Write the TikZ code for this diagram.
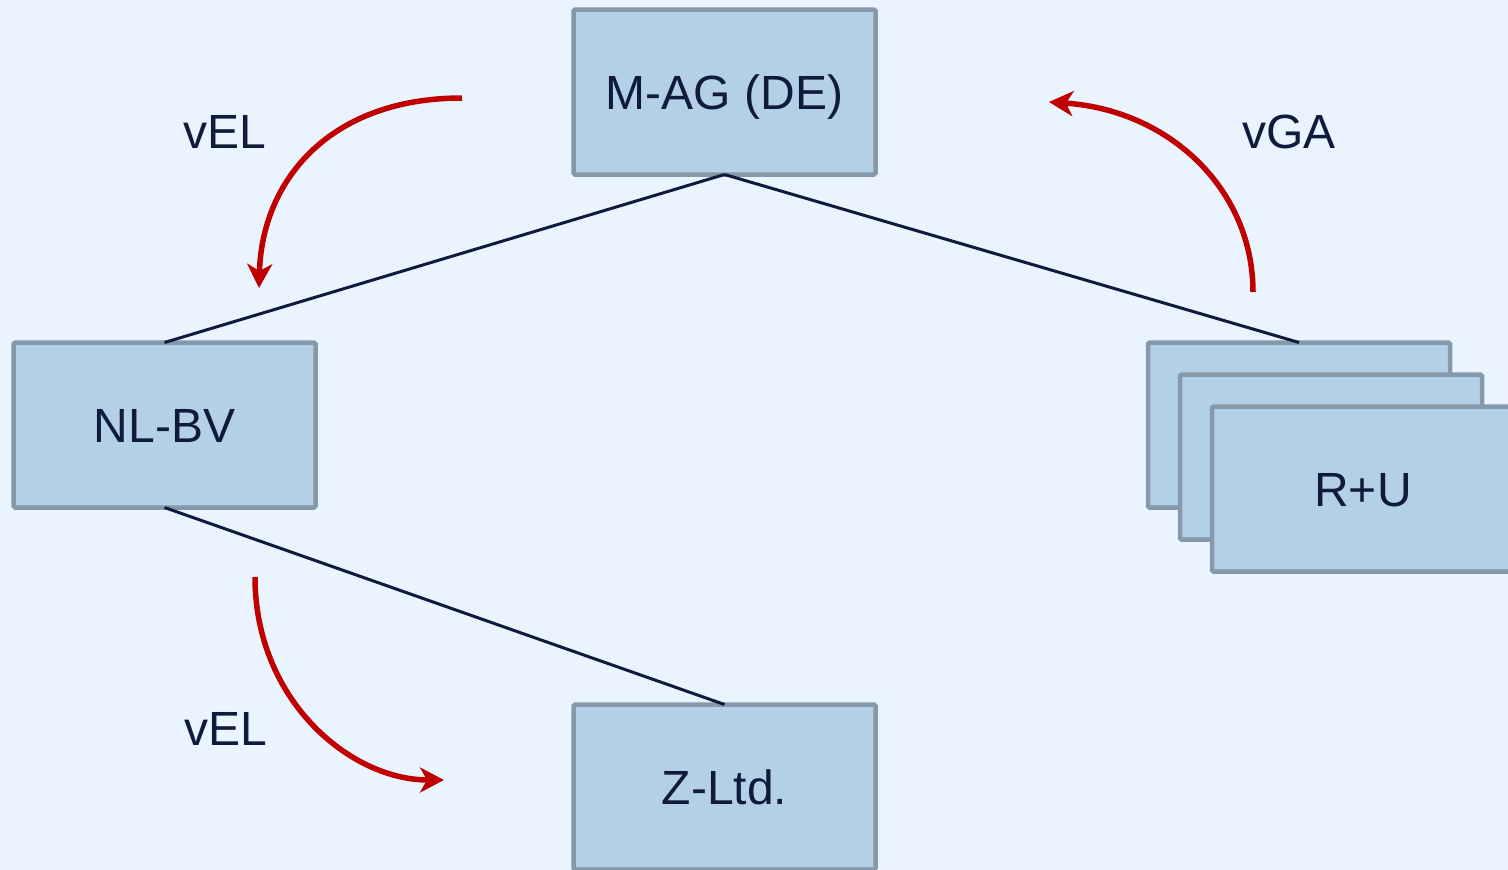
\documentclass[tikz,border=0pt]{standalone}
\usepackage{fontspec}
\setmainfont{Liberation Sans}
\usetikzlibrary{arrows.meta}
\definecolor{bgcol}{HTML}{EAF4FE}
\definecolor{boxfill}{HTML}{B4D0E6}
\definecolor{boxedge}{HTML}{8599AB}
\definecolor{navy}{HTML}{0F1A3C}
\definecolor{flowred}{HTML}{C00000}
\tikzset{
  entity/.style={draw=boxedge, fill=boxfill, line width=4.5pt, rounded corners=1.5pt,
    minimum width=302pt, minimum height=165pt, inner sep=0pt, outer sep=0pt,
    text=navy, font=\fontsize{48}{58}\selectfont, text height=34pt, text depth=0pt},
  link/.style={draw=navy, line width=3pt},
  flow/.style={draw=flowred, line width=5.5pt,
    -{Stealth[length=24pt, width=25pt, inset=7pt]}},
  tag/.style={text=navy, font=\fontsize{48}{58}\selectfont, text height=34pt, text depth=0pt}
}
\begin{document}
\begin{tikzpicture}[x=1pt, y=-1pt]
  \fill[bgcol] (0,0) rectangle (1508,870);
  \clip (0,0) rectangle (1508,870);
  \useasboundingbox (0,0) rectangle (1508,870);

  % companies
  \node[entity] (mag) at (724.5,92) {M-AG (DE)};
  \node[entity] (nl)  at (164.5,425) {NL-BV};
  \node[entity] (z)   at (724.5,787) {Z-Ltd.};
  \node[entity] (ru1) at (1299,425) {};
  \node[entity] (ru2) at (1331,457) {};
  \node[entity] (ru3) at (1363,489) {R+U};

  % ownership lines
  \draw[link] (mag.south) -- (nl.north);
  \draw[link] (mag.south) -- (ru1.north);
  \draw[link] (nl.south) -- (z.north);

  % flow arrows
  \coordinate (a1s) at (462,98);
  \coordinate (a1e) at (259,288);
  \coordinate (a2s) at (255,577);
  \coordinate (a2e) at (444,780);
  \coordinate (a3s) at (1253,292);
  \coordinate (a3e) at (1049,102);
  \draw[flow] (a1s) .. controls (330,98) and (262,180) .. (a1e);
  \draw[flow] (a2s) .. controls (255,700) and (350,780) .. (a2e);
  \draw[flow] (a3s) .. controls (1253,190) and (1170,110) .. (a3e);

  % labels
  \node[tag] (l1) at (225,131) {vEL};
  \node[tag] (l2) at (226,728) {vEL};
  \node[tag] (l3) at (1289,131) {vGA};
\end{tikzpicture}
\end{document}
